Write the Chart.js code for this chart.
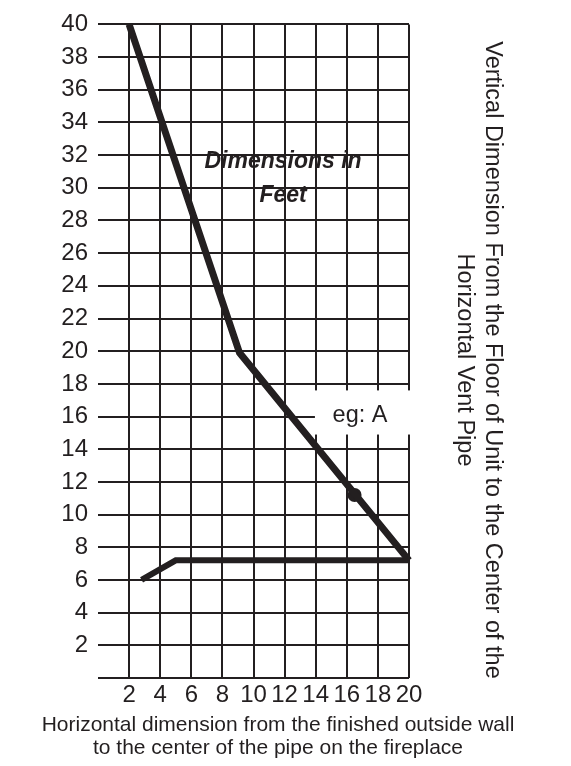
<!DOCTYPE html>
<html>
<head>
<meta charset="utf-8">
<script src="https://cdn.jsdelivr.net/npm/chart.js@4.4.1/dist/chart.umd.min.js"></script>
<style>
    html, body { margin: 0; padding: 0; background: #fff; }
    #vent-wrap { position: relative; width: 571px; height: 766px; }
</style>
</head>
<body>
<div id="vent-wrap"><canvas id="vent-chart" width="571" height="766"></canvas></div>

<script>(function() { "use strict";

    // upper limit line
    var upper_x = [2, 9.1, 20];
    var upper_y = [40, 19.9, 7.2];
    // lower limit line
    var lower_x = [2.8, 5, 20];
    var lower_y = [6, 7.2, 7.2];
    // the "eg: A" example point
    var example_x = [16.5];
    var example_y = [11.2];

    var x_ticks = [2, 4, 6, 8, 10, 12, 14, 16, 18, 20];
    var y_ticks = [2, 4, 6, 8, 10, 12, 14, 16, 18, 20, 22, 24, 26, 28, 30, 32, 34, 36, 38, 40];

    var x_title = ['Horizontal dimension from the finished outside wall', 'to the center of the pipe on the fireplace'];
    var y_title = ['Vertical Dimension From the Floor of Unit to the Center of the', 'Horizontal Vent Pipe'];

    var ink = '#231f20';
    var font_family = '"Liberation Sans", Arial, Helvetica, sans-serif';

    function toPoints(xs, ys) {
        return xs.map(function(x, i) { return { x: x, y: ys[i] }; });
    }

    function tickLabel(list) {
        return function(value) {
            return list.indexOf(value) >= 0 ? String(value) : '';
        };
    }

    // labels, example box and axis titles
    var notes_plugin = {
        id: 'ventNotes',
        beforeDatasetsDraw: function(chart) {
            var ctx = chart.ctx,
                xs = chart.scales.x,
                ys = chart.scales.y;
            ctx.save();

            // white box behind "eg: A"
            var bx0 = xs.getPixelForValue(13.95),
                bx1 = xs.getPixelForValue(20) + 2,
                by0 = ys.getPixelForValue(17.6),
                by1 = ys.getPixelForValue(14.9);
            ctx.fillStyle = '#fff';
            ctx.fillRect(bx0, by0, bx1 - bx0, by1 - by0);

            ctx.fillStyle = ink;
            ctx.textAlign = 'center';
            ctx.textBaseline = 'middle';
            ctx.font = '23.5px ' + font_family;
            ctx.fillText('eg: A', xs.getPixelForValue(16.85), ys.getPixelForValue(16.05));

            ctx.font = 'italic bold 23px ' + font_family;
            ctx.fillText('Dimensions in', xs.getPixelForValue(11.9), ys.getPixelForValue(31.6));
            ctx.fillText('Feet', xs.getPixelForValue(11.9), ys.getPixelForValue(29.5));
            ctx.restore();
        },
        afterDraw: function(chart) {
            var ctx = chart.ctx;
            ctx.save();
            ctx.fillStyle = ink;
            ctx.textAlign = 'center';
            ctx.textBaseline = 'middle';
            ctx.font = '21px ' + font_family;
            ctx.fillText(x_title[0], 278, 725);
            ctx.fillText(x_title[1], 278, 748);

            ctx.font = '23.5px ' + font_family;
            ctx.translate(492, 360);
            ctx.rotate(Math.PI / 2);
            ctx.fillText(y_title[0], 0, 0);
            ctx.fillText(y_title[1], 0, 28);
            ctx.restore();
        }
    };

    var vent_canvas = document.getElementById('vent-chart').getContext('2d');

    var vent_chart = new Chart(vent_canvas, {
        type: 'scatter',
        data: {
            datasets: [{
                label: 'upper',
                data: toPoints(upper_x, upper_y),
                showLine: true,
                borderColor: ink,
                borderWidth: 7,
                pointRadius: 0,
                borderJoinStyle: 'miter',
                clip: 4
            }, {
                label: 'lower',
                data: toPoints(lower_x, lower_y),
                showLine: true,
                borderColor: ink,
                borderWidth: 6,
                pointRadius: 0,
                clip: 4
            }, {
                label: 'example',
                data: toPoints(example_x, example_y),
                pointRadius: 7,
                pointBackgroundColor: ink,
                pointBorderWidth: 0
            }]
        },
        plugins: [notes_plugin],
        options: {
            responsive: false,
            animation: false,
            layout: {
                padding: { top: 19, right: 162, left: 0, bottom: 0 }
            },
            plugins: {
                legend: { display: false },
                tooltip: { enabled: false }
            },
            scales: {
                x: {
                    type: 'linear',
                    min: 0,
                    max: 20,
                    afterFit: function(scale) { scale.height = 88; },
                    ticks: {
                        stepSize: 2,
                        autoSkip: false,
                        maxRotation: 0,
                        padding: 3,
                        color: ink,
                        font: { family: font_family, size: 24 },
                        callback: tickLabel(x_ticks)
                    },
                    grid: {
                        drawTicks: false,
                        lineWidth: 2,
                        color: function(c) {
                            return c.tick && c.tick.value === 0 ? 'rgba(0,0,0,0)' : ink;
                        }
                    },
                    border: { display: false }
                },
                y: {
                    min: 0,
                    max: 40,
                    afterFit: function(scale) { scale.width = 98; },
                    ticks: {
                        stepSize: 2,
                        autoSkip: false,
                        padding: 10,
                        color: ink,
                        font: { family: font_family, size: 24 },
                        callback: tickLabel(y_ticks)
                    },
                    grid: {
                        drawTicks: false,
                        lineWidth: 2,
                        color: ink
                    },
                    border: { display: false }
                }
            }
        }
    });

})();</script>
</body>
</html>
